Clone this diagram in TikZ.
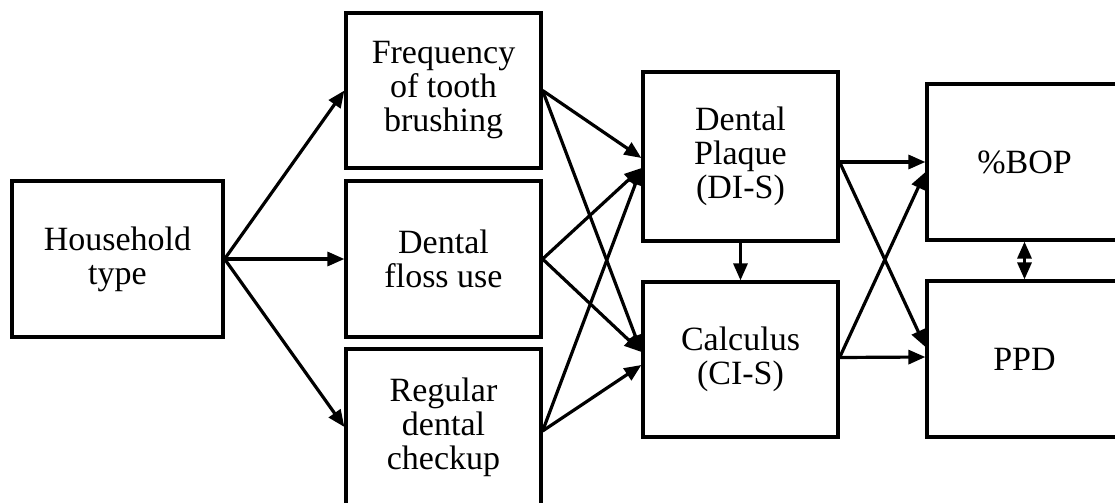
\documentclass[tikz,border=0pt]{standalone}
\usepackage{fontspec}
\setmainfont{Liberation Serif}
\usetikzlibrary{arrows.meta}
\begin{document}
\begin{tikzpicture}[x=0.5pt,y=-0.5pt,
  box/.style={draw,line width=1.6pt,rectangle,inner sep=0pt,align=center,
    minimum width=97.5pt,minimum height=78pt,font=\fontsize{17}{17}\selectfont},
  arr/.style={line width=1.6pt,-{Triangle[length=8.5pt,width=7pt]}},
  darr/.style={line width=1.6pt,{Triangle[length=8.5pt,width=7pt]}-{Triangle[length=8.5pt,width=7pt]}}]
\useasboundingbox (0,0) rectangle (1115,503);
\node[box,minimum width=105.5pt] (hh) at (117.5,259) {Household\\type};
\node[box,minimum height=77.5pt] (freq) at (443.5,90.5) {Frequency\\of tooth\\brushing};
\node[box] (floss) at (443.5,259) {Dental\\floss use};
\node[box] (reg) at (443.5,427) {Regular\\dental\\checkup};
\node[box,minimum height=84.5pt] (plaque) at (740.5,156.5) {Dental\\Plaque\\(DI-S)};
\node[box,minimum height=77.5pt] (calc) at (740.5,359.5) {Calculus\\(CI-S)};
\node[box] (bop) at (1024.5,162) {\%BOP};
\node[box] (ppd) at (1024.5,359) {PPD};
\draw[arr] (hh.east) -- (freq.west);
\draw[arr] (hh.east) -- (floss.west);
\draw[arr] (hh.east) -- (reg.west);
\draw[arr] (freq.east) -- ([yshift=-0.75pt]plaque.west);
\draw[arr] (freq.east) -- ([yshift=3.75pt]calc.west);
\draw[arr] (floss.east) -- ([yshift=-5.75pt]plaque.west);
\draw[arr] (floss.east) -- ([yshift=3.75pt]calc.west);
\draw[arr] ([yshift=-2pt]reg.east) -- ([yshift=-5.75pt]plaque.west);
\draw[arr] ([yshift=-2pt]reg.east) -- ([yshift=-2.75pt]calc.west);
\draw[arr] (plaque.south) -- (calc.north);
\draw[arr] ([yshift=-2.75pt]plaque.east) -- (bop.west);
\draw[arr] ([yshift=-2.75pt]plaque.east) -- ([yshift=6pt]ppd.west);
\draw[arr] ([yshift=1pt]calc.east) -- ([yshift=1pt]ppd.west);
\draw[arr] ([yshift=1pt]calc.east) -- ([yshift=-5pt]bop.west);
\draw[darr] (bop.south) -- (ppd.north);
\end{tikzpicture}
\end{document}
